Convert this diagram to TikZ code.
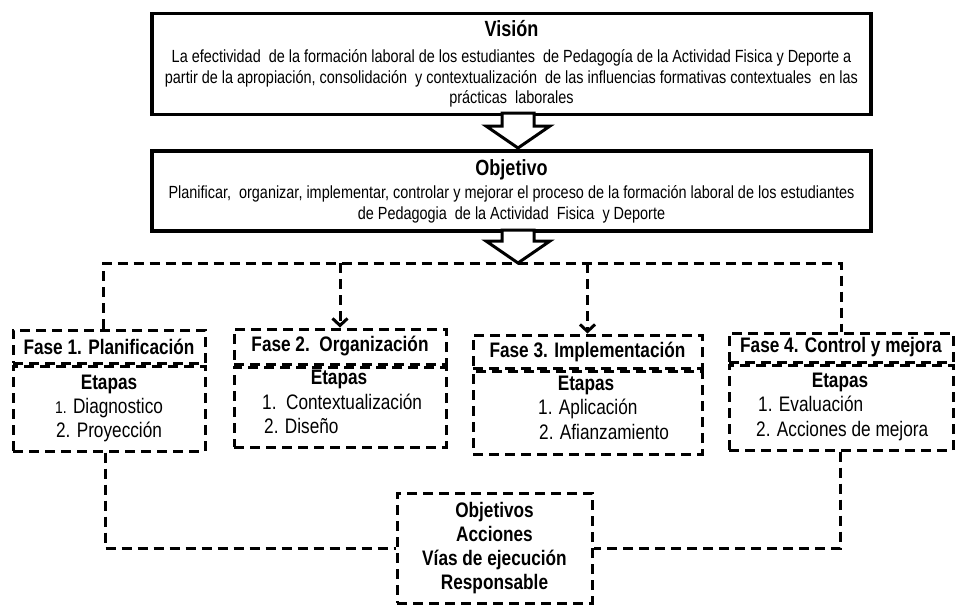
\documentclass[tikz,border=0pt]{standalone}
\usepackage{fontspec}
\setmainfont{Liberation Sans}[FakeStretch=0.82]
\usetikzlibrary{positioning,arrows.meta}

\begin{document}
\begin{tikzpicture}[
  x=1pt,y=-1pt,
  every node/.style={font=\fontsize{17.6}{20.5}\selectfont},
  mainbox/.style={rectangle,draw,line width=3.2pt,minimum width=719pt,align=center,inner sep=0pt},
  dashline/.style={line width=3pt,dash pattern=on 10pt off 6pt},
  dasharr/.style={dashline,-{Straight Barb[length=7pt,width=15pt]}},
  blockarr/.style={draw,fill=white,line width=3pt,line join=miter},
  fasehead/.style={rectangle,draw,dashline,inner sep=0pt,font=\bfseries\fontsize{21}{24}\selectfont},
  fasebody/.style={rectangle,draw,dashline,inner sep=0pt},
  etapa/.style={font=\bfseries\fontsize{21}{24}\selectfont,inner sep=0pt,text height=15pt,text depth=4pt},
  paso/.style={font=\fontsize{21}{24}\selectfont,inner sep=0pt,text height=15pt,text depth=4pt},
  resumen/.style={rectangle,draw,dashline,align=center,inner sep=0pt,font=\bfseries\fontsize{21}{24}\selectfont}
]
\useasboundingbox (0,0) rectangle (966,611);

% vision y objetivo
\node[mainbox,minimum height=101pt] (vision) at (511.5,64)
  {{\bfseries\fontsize{22}{24}\selectfont Visión}\\[6pt]
   La efectividad\ \ de la formación laboral de los estudiantes\ \ de Pedagogía de la Actividad Fisica y Deporte a\\
   partir de la apropiación, consolidación\ \ y contextualización\ \ de las influencias formativas contextuales\ \ en las\\
   prácticas\ \ laborales};
\node[mainbox,minimum height=80pt] (objetivo) at (511.5,191)
  {{\bfseries\fontsize{22}{24}\selectfont Objetivo}\\[3pt]
   Planificar,\ \ organizar, implementar, controlar y mejorar el proceso de la formación laboral de los estudiantes\\
   de Pedagogia\ \ de la Actividad\ \ Fisica\ \ y Deporte};

\coordinate (tip1) at (518,148);
\coordinate (bus) at (518,263);
\draw[blockarr] (tip1) -- ++(-32,-22) -- ++(16,0) -- ++(0,-13) -- ++(32,0) -- ++(0,13) -- ++(16,0) -- cycle;
\draw[blockarr] (bus) -- ++(-32,-22) -- ++(16,0) -- ++(0,-11) -- ++(32,0) -- ++(0,11) -- ++(16,0) -- cycle;

% fases
\node[fasehead,minimum width=192pt,minimum height=33pt] (f1h) at (109,346.5) {Fase 1. Planificación};
\node[fasebody,minimum width=192pt,minimum height=85pt,below=0pt of f1h] (f1b) {};
\node[fasehead,minimum width=212pt,minimum height=35pt] (f2h) at (340,346.5) {Fase 2.\ \ Organización};
\node[fasebody,minimum width=212pt,minimum height=80pt,below=0pt of f2h] (f2b) {};
\node[fasehead,minimum width=229pt,minimum height=33pt] (f3h) at (587.5,351.5) {Fase 3. Implementación};
\node[fasebody,minimum width=229pt,minimum height=83pt,below=0pt of f3h] (f3b) {};
\node[fasehead,minimum width=224pt,minimum height=29pt] (f4h) at (841,347.5) {Fase 4. Control y mejora};
\node[fasebody,minimum width=224pt,minimum height=85pt,below=0pt of f4h] (f4b) {};

% etapas
\node[etapa] (e1) at (109,384) {Etapas};
\node[paso] (e1a) at (109,408) {{\fontsize{17}{20}\selectfont 1.} Diagnostico};
\node[paso] (e1b) at (109,432) {2. Proyección};
\node[etapa] (e2) at (339,379) {Etapas};
\node[paso,anchor=west] (e2a) at (262,404) {1.\ \ Contextualización};
\node[paso,anchor=west] (e2b) at (264,428) {2. Diseño};
\node[etapa] (e3) at (586,385) {Etapas};
\node[paso,anchor=west] (e3a) at (538,409) {1. Aplicación};
\node[paso,anchor=west] (e3b) at (539,434) {2. Afianzamiento};
\node[etapa] (e4) at (840,382) {Etapas};
\node[paso,anchor=west] (e4a) at (758,406) {1. Evaluación};
\node[paso,anchor=west] (e4b) at (756,431) {2. Acciones de mejora};

\node[resumen,minimum width=195pt,minimum height=110pt] (plan) at (494.5,548)
  {Objetivos\\Acciones\\Vías de ejecución\\Responsable};

% conectores
\draw[dashline] ([xshift=-6pt]f1h.north) |- (bus) -| (f4h.north);
\draw[dasharr] (f2h.north |- bus) -- (f2h.north);
\draw[dasharr] (f3h.north |- bus) -- (f3h.north);
\draw[dashline] ([xshift=-4pt]f1b.south) |- (plan.west);
\draw[dashline] ([xshift=-1pt]f4b.south) |- (plan.east);
\end{tikzpicture}
\end{document}
